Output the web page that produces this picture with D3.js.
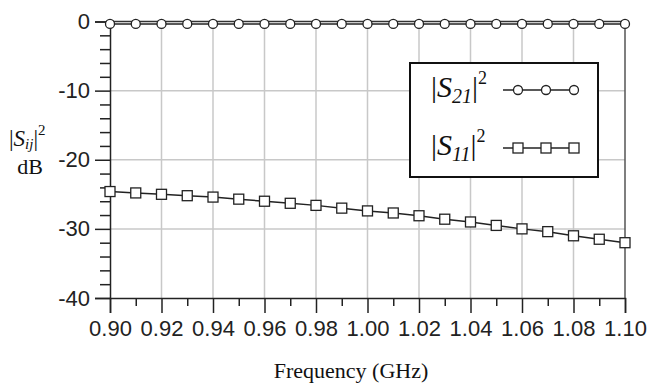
<!DOCTYPE html>
<html><head><meta charset="utf-8">
<script src="https://cdn.jsdelivr.net/npm/d3@7"></script>
<style>body{margin:0;background:#fff}svg{display:block}</style>
</head><body>
<svg id="c" width="647" height="387"></svg>
<script>
const freq = [0.90,0.91,0.92,0.93,0.94,0.95,0.96,0.97,0.98,0.99,1.00,1.01,1.02,1.03,1.04,1.05,1.06,1.07,1.08,1.09,1.10];
const s21 = [-0.35,-0.35,-0.35,-0.35,-0.35,-0.35,-0.35,-0.35,-0.35,-0.35,-0.35,-0.35,-0.35,-0.35,-0.35,-0.35,-0.35,-0.35,-0.35,-0.35,-0.35];
const s11 = [-24.6,-24.8,-25.0,-25.2,-25.4,-25.7,-26.0,-26.3,-26.6,-27.0,-27.4,-27.7,-28.1,-28.6,-29.0,-29.5,-30.0,-30.4,-31.0,-31.5,-32.0];
const xTicks = [0.90,0.92,0.94,0.96,0.98,1.00,1.02,1.04,1.06,1.08,1.10];
const xMinor = [0.91,0.93,0.95,0.97,0.99,1.01,1.03,1.05,1.07,1.09];
const yTicks = [0,-10,-20,-30,-40];
const yMinor = [-2,-4,-6,-8,-12,-14,-16,-18,-22,-24,-26,-28,-32,-34,-36,-38];

const svg = d3.select("#c");
const L=110,R=625,T=21.5,B=298;
const x = d3.scaleLinear().domain([0.9,1.1]).range([L,R]);
const y = d3.scaleLinear().domain([-40,0]).range([B,T]);

// grid
svg.append("g").selectAll("line").data(xTicks.slice(1,-1)).join("line")
  .attr("x1",d=>x(d)).attr("x2",d=>x(d)).attr("y1",T).attr("y2",B)
  .attr("stroke","#c8c8c8").attr("stroke-width",1.5);
svg.append("g").selectAll("line").data(yTicks.slice(1,-1)).join("line")
  .attr("x1",L).attr("x2",R).attr("y1",d=>y(d)).attr("y2",d=>y(d))
  .attr("stroke","#c8c8c8").attr("stroke-width",1.5);

// frame
svg.append("line").attr("x1",R).attr("x2",R).attr("y1",T).attr("y2",B).attr("stroke","#555").attr("stroke-width",1.5);
svg.append("line").attr("x1",L).attr("x2",R).attr("y1",T).attr("y2",T).attr("stroke","#333").attr("stroke-width",1.5);

// axes
const fmt = d3.format(".2f");
const xAxis = svg.append("g").attr("transform",`translate(0,${B})`)
  .call(d3.axisBottom(x).tickValues(xTicks).tickSize(15).tickPadding(7).tickFormat(fmt));
svg.append("g").attr("transform",`translate(0,${B})`)
  .call(d3.axisBottom(x).tickValues(xMinor).tickSize(8).tickFormat(""))
  .select(".domain").remove();
const yAxis = svg.append("g").attr("transform",`translate(${L},0)`)
  .call(d3.axisLeft(y).tickValues(yTicks).tickSize(15).tickPadding(5).tickFormat(d=>String(d).replace("\u2212","-")));
svg.append("g").attr("transform",`translate(${L},0)`)
  .call(d3.axisLeft(y).tickValues(yMinor).tickSize(10).tickFormat(""))
  .select(".domain").remove();
svg.selectAll(".domain").attr("stroke","#222").attr("stroke-width",1.5);
svg.selectAll(".tick line").attr("stroke","#222").attr("stroke-width",1.5);
svg.selectAll(".tick text").attr("font-family","Liberation Sans, Arial, sans-serif")
  .attr("font-size",22).attr("fill","#222");
xAxis.selectAll(".tick text").attr("dy","0.71em");

// series
const line = d3.line().x((d,i)=>x(freq[i])).y(d=>y(d));
svg.append("path").datum(s21).attr("d",line).attr("fill","none").attr("stroke","#222").attr("stroke-width",1.5);
svg.append("path").datum(s11).attr("d",line).attr("fill","none").attr("stroke","#222").attr("stroke-width",1.5);
svg.append("g").selectAll("circle").data(s21).join("circle")
  .attr("cx",(d,i)=>x(freq[i])).attr("cy",d=>y(d)).attr("r",4.5)
  .attr("fill","#fff").attr("stroke","#222").attr("stroke-width",1.3);
svg.append("g").selectAll("rect").data(s11).join("rect")
  .attr("x",(d,i)=>x(freq[i])-5).attr("y",d=>y(d)-5).attr("width",10).attr("height",10)
  .attr("fill","#fff").attr("stroke","#222").attr("stroke-width",1.3);

// legend
const lg = svg.append("g");
lg.append("rect").attr("x",410).attr("y",63).attr("width",188).attr("height",114)
  .attr("fill","#fff").attr("stroke","#111").attr("stroke-width",2);
const legendItems = [{sub:"21", y:90, shape:"circle"},{sub:"11", y:148, shape:"rect"}];
legendItems.forEach(it=>{
  const t = lg.append("text").attr("x",431).attr("y",it.y+7)
    .attr("font-family","Liberation Serif, Times New Roman, serif").attr("font-size",30).attr("fill","#111");
  t.append("tspan").text("|");
  t.append("tspan").attr("font-style","italic").text("S");
  t.append("tspan").attr("font-style","italic").attr("font-size",20).attr("dy",6).text(it.sub);
  t.append("tspan").attr("dy",-6).text("|");
  t.append("tspan").attr("font-size",18).attr("dy",-13).text("2");
  lg.append("line").attr("x1",503).attr("x2",577).attr("y1",it.y).attr("y2",it.y).attr("stroke","#222").attr("stroke-width",1.5);
  [518,546,574].forEach(cx=>{
    if(it.shape==="circle") lg.append("circle").attr("cx",cx).attr("cy",it.y).attr("r",4.5).attr("fill","#fff").attr("stroke","#222").attr("stroke-width",1.3);
    else lg.append("rect").attr("x",cx-5).attr("y",it.y-5).attr("width",10).attr("height",10).attr("fill","#fff").attr("stroke","#222").attr("stroke-width",1.3);
  });
});

// axis titles
const yl = svg.append("text").attr("x",9).attr("y",146)
  .attr("font-family","Liberation Serif, Times New Roman, serif").attr("font-size",23).attr("fill","#111");
yl.append("tspan").text("|");
yl.append("tspan").attr("font-style","italic").text("S");
yl.append("tspan").attr("font-style","italic").attr("font-size",15).attr("dy",3).text("ij");
yl.append("tspan").attr("dy",-3).text("|");
yl.append("tspan").attr("font-size",15).attr("dy",-11).text("2");
svg.append("text").attr("x",30).attr("y",174).attr("text-anchor","middle")
  .attr("font-family","Liberation Serif, Times New Roman, serif").attr("font-size",22).attr("fill","#111").text("dB");
svg.append("text").attr("x",351).attr("y",378).attr("text-anchor","middle")
  .attr("font-family","Liberation Serif, Times New Roman, serif").attr("font-size",22).attr("fill","#111").text("Frequency (GHz)");
</script>
</body></html>
